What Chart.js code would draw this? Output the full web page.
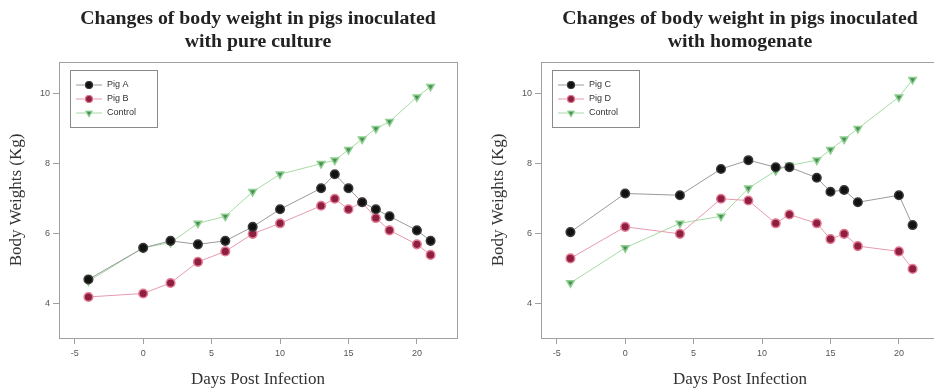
<!DOCTYPE html>
<html>
<head>
<meta charset="utf-8">
<title>Body weight changes in inoculated pigs</title>
<script src="https://cdn.jsdelivr.net/npm/chart.js"></script>
<style>
    html, body {
        margin: 0;
        padding: 0;
        background: #fff;
        width: 934px;
        height: 392px;
        overflow: hidden;
    }
    .panel {
        position: absolute;
        top: 0;
        width: 470px;
        height: 392px;
    }
    #leftPanel { left: 0; }
    #rightPanel { left: 482px; }
</style>
</head>
<body>
<div class="panel" id="leftPanel"><canvas id="pureChart"></canvas></div>
<div class="panel" id="rightPanel"><canvas id="homoChart"></canvas></div>
<script>
    // Left panel: pure culture
    const daysPure = [-4, 0, 2, 4, 6, 8, 10, 13, 14, 15, 16, 17, 18, 20, 21];
    const pigA = [4.7, 5.6, 5.8, 5.7, 5.8, 6.2, 6.7, 7.3, 7.7, 7.3, 6.9, 6.7, 6.5, 6.1, 5.8];
    const pigB = [4.2, 4.3, 4.6, 5.2, 5.5, 6.0, 6.3, 6.8, 7.0, 6.7, 6.9, 6.45, 6.1, 5.7, 5.4];
    const controlPure = [4.65, 5.6, 5.75, 6.3, 6.5, 7.2, 7.7, 8.0, 8.1, 8.4, 8.7, 9.0, 9.2, 9.9, 10.2];

    // Right panel: homogenate
    const daysHomo = [-4, 0, 4, 7, 9, 11, 12, 14, 15, 16, 17, 20, 21];
    const pigC = [6.05, 7.15, 7.1, 7.85, 8.1, 7.9, 7.9, 7.6, 7.2, 7.25, 6.9, 7.1, 6.25];
    const pigD = [5.3, 6.2, 6.0, 7.0, 6.95, 6.3, 6.55, 6.3, 5.85, 6.0, 5.65, 5.5, 5.0];
    const controlHomo = [4.6, 5.6, 6.3, 6.5, 7.3, 7.8, 7.95, 8.1, 8.4, 8.7, 9.0, 9.9, 10.4];

    const xTicks = [-5, 0, 5, 10, 15, 20];
    const yTicks = [4, 6, 8, 10];

    const styles = {
        black: { line: '#9a9a9a', fill: '#111111', edge: '#3a3a3a', shape: 'circle', rot: 0 },
        red: { line: '#e79aae', fill: '#8e1f3e', edge: '#e27a96', shape: 'circle', rot: 0 },
        green: { line: '#a5dca5', fill: '#468f55', edge: '#8fcf8f', shape: 'triangle', rot: 180 }
    };

    function makeDataset(label, days, values, st, order) {
        return {
            label: label,
            data: days.map((d, i) => ({ x: d, y: values[i] })),
            borderColor: st.line,
            borderWidth: 1,
            backgroundColor: st.fill,
            pointBackgroundColor: st.fill,
            pointBorderColor: st.edge,
            pointBorderWidth: 1.5,
            pointRadius: 4.3,
            pointStyle: st.shape,
            pointRotation: st.rot,
            order: order,
            tension: 0
        };
    }

    // Frame, title and legend drawn inside the chart area like the R plot
    const framePlugin = {
        id: 'frame',
        beforeDatasetsDraw(chart) {
            const a = chart.chartArea, ctx = chart.ctx;
            ctx.save();
            ctx.strokeStyle = '#a0a0a0';
            ctx.lineWidth = 1;
            ctx.strokeRect(a.left + 0.5, a.top + 0.5, a.right - a.left, a.bottom - a.top);
            ctx.restore();
        },
        afterDraw(chart) {
            const a = chart.chartArea, ctx = chart.ctx;
            const lines = chart.options.plugins.frame.title;
            ctx.save();
            ctx.fillStyle = '#222';
            ctx.font = 'bold 18px "Liberation Serif", "DejaVu Serif", serif';
            ctx.textAlign = 'center';
            ctx.textBaseline = 'middle';
            const cx = (a.left + a.right) / 2;
            lines.forEach((t, i) => {
                // the original title is a little wider than the font, stretch it slightly
                ctx.save();
                ctx.translate(cx, 19 + i * 23);
                ctx.scale(1.1, 1);
                ctx.fillText(t, 0, 0);
                ctx.restore();
            });

            // legend box
            const lx = a.left + 11, ly = a.top + 8;
            ctx.strokeStyle = '#8a8a8a';
            ctx.lineWidth = 1;
            ctx.strokeRect(lx + 0.5, ly + 0.5, 87, 57);
            ctx.font = '9px "Liberation Sans", Arial, sans-serif';
            ctx.textAlign = 'left';
            chart.data.datasets.forEach((ds, i) => {
                const y = ly + 15 + i * 14;
                ctx.strokeStyle = ds.borderColor;
                ctx.beginPath();
                ctx.moveTo(lx + 6, y);
                ctx.lineTo(lx + 32, y);
                ctx.stroke();
                Chart.helpers.drawPoint(ctx, {
                    pointStyle: ds.pointStyle,
                    rotation: ds.pointRotation,
                    radius: 3.5,
                    borderWidth: 1.2
                }, lx + 19, y);
                ctx.fillStyle = ds.pointBackgroundColor;
                ctx.strokeStyle = ds.pointBorderColor;
                ctx.lineWidth = 1.2;
                ctx.fill();
                ctx.stroke();
                ctx.lineWidth = 1;
                ctx.fillStyle = '#333';
                ctx.fillText(ds.label, lx + 37, y);
            });
            ctx.restore();
        }
    };

    function createPanel(id, title, datasets) {
        const ctx = document.getElementById(id).getContext('2d');
        const tickFont = { family: '"Liberation Sans", Arial, sans-serif', size: 9 };
        const titleFont = { family: '"Liberation Serif", "DejaVu Serif", serif', size: 17 };
        new Chart(ctx, {
            type: 'line',
            data: { datasets: datasets },
            plugins: [framePlugin],
            options: {
                responsive: false,
                animation: false,
                layout: { padding: { top: 62, right: 13, left: 0, bottom: 0 } },
                plugins: {
                    legend: { display: false },
                    tooltip: { enabled: false },
                    frame: { title: title }
                },
                scales: {
                    x: {
                        type: 'linear',
                        min: -6.15,
                        max: 22.93,
                        afterBuildTicks: s => { s.ticks = xTicks.map(v => ({ value: v })); },
                        afterFit: s => { s.height = 54; },
                        grid: { drawOnChartArea: false, drawTicks: true, tickLength: 6, color: '#a0a0a0' },
                        border: { display: false },
                        ticks: { font: tickFont, color: '#555', padding: 4, maxRotation: 0 },
                        title: { display: true, text: 'Days Post Infection', font: titleFont, color: '#333', padding: { top: 0, bottom: 2 } }
                    },
                    y: {
                        min: 3.03,
                        max: 10.9,
                        afterBuildTicks: s => { s.ticks = yTicks.map(v => ({ value: v })); },
                        afterFit: s => { s.width = 59; },
                        grid: { drawOnChartArea: false, drawTicks: true, tickLength: 6, color: '#a0a0a0' },
                        border: { display: false },
                        ticks: { font: tickFont, color: '#555', padding: 3 },
                        title: { display: true, text: 'Body Weights (Kg)', font: titleFont, color: '#333', padding: { top: 6, bottom: 0 } }
                    }
                }
            }
        });
    }

    function sizeCanvas(id) {
        const c = document.getElementById(id);
        c.width = 470;
        c.height = 392;
        c.style.width = '470px';
        c.style.height = '392px';
    }
    sizeCanvas('pureChart');
    sizeCanvas('homoChart');

    createPanel('pureChart', ['Changes of body weight in pigs inoculated', 'with pure culture'], [
        makeDataset('Pig A', daysPure, pigA, styles.black, 1),
        makeDataset('Pig B', daysPure, pigB, styles.red, 2),
        makeDataset('Control', daysPure, controlPure, styles.green, 3)
    ]);

    createPanel('homoChart', ['Changes of body weight in pigs inoculated', 'with homogenate'], [
        makeDataset('Pig C', daysHomo, pigC, styles.black, 1),
        makeDataset('Pig D', daysHomo, pigD, styles.red, 2),
        makeDataset('Control', daysHomo, controlHomo, styles.green, 3)
    ]);
</script>
</body>
</html>
